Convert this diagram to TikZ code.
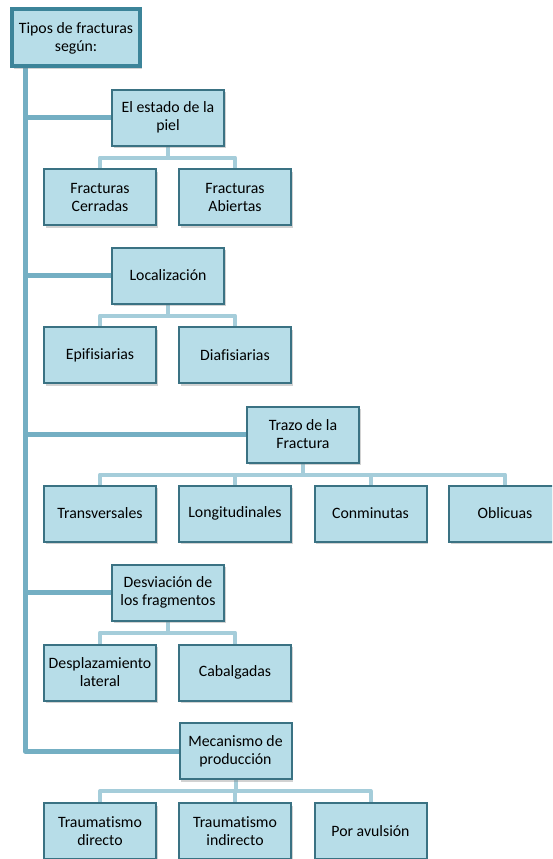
\documentclass[tikz,border=0pt]{standalone}
\usepackage{fontspec}
\setmainfont{Carlito}[Ligatures={NoCommon}]
\usetikzlibrary{shadows,backgrounds}
\definecolor{boxfill}{HTML}{B7DDE8}
\definecolor{boxline}{HTML}{3A7283}
\definecolor{rootline}{HTML}{3C8499}
\definecolor{trunkcol}{HTML}{74AFC3}
\definecolor{branchcol}{HTML}{A5CDDA}
\tikzset{
  box/.style={draw=boxline, line width=2pt, fill=boxfill, minimum width=112pt, minimum height=56pt,
    align=center, inner sep=2pt, font=\fontsize{15.8}{18}\selectfont,
    drop shadow={shadow xshift=1.5pt, shadow yshift=-2.5pt, opacity=0.35}},
  rootbox/.style={box, draw=rootline, line width=4pt, minimum width=128pt, minimum height=57pt},
  trunk/.style={draw=trunkcol, line width=5pt},
  branch/.style={draw=branchcol, line width=4pt},
}
\begin{document}
\begin{tikzpicture}[x=1pt,y=-1pt]
\useasboundingbox (0,0) rectangle (552,859);
\clip (0,0) rectangle (552,859);

% nodes
\node[rootbox] (root) at (76,38) {Tipos de fracturas\\según:};
\node[box] (piel) at (168,117.5) {El estado de la\\piel};
\node[box] (cerr) at (100,197) {Fracturas\\Cerradas};
\node[box] (abie) at (235,197) {Fracturas\\Abiertas};
\node[box] (loc) at (168,275.5) {Localización};
\node[box] (epi) at (100,355) {Epifisiarias};
\node[box] (dia) at (235,355) {Diafisiarias};
\node[box] (trazo) at (303,434.5) {Trazo de la\\Fractura};
\node[box] (trans) at (100,513.5) {Transversales};
\node[box] (long) at (235,513.5) {Longitudinales};
\node[box] (conm) at (370.5,513.5) {Conminutas};
\node[box] (obl) at (505,513.5) {Oblicuas};
\node[box] (desv) at (168,592.5) {Desviación de\\los fragmentos};
\node[box] (despl) at (100,672.5) {Desplazamiento\\lateral};
\node[box] (cabal) at (235,672.5) {Cabalgadas};
\node[box] (mec) at (235.5,751) {Mecanismo de\\producción};
\node[box] (tdir) at (100,831) {Traumatismo\\directo};
\node[box] (tind) at (235,831) {Traumatismo\\indirecto};
\node[box] (avul) at (370.5,831) {Por avulsión};

\begin{pgfonlayer}{background}
  \fill[white] (0,0) rectangle (552,859);
  % trunk
  \coordinate (tTop) at (root.south -| 25,0);
  \draw[trunk, line join=round] (tTop) -- (tTop |- mec.west) -- (mec.west);
  \foreach \n in {piel,loc,trazo,desv}
    \draw[trunk] (tTop |- \n.west) -- (\n.west);
  % branches
  \foreach \p/\c in {piel/cerr,piel/abie,loc/epi,loc/dia,trazo/trans,trazo/long,trazo/conm,trazo/obl,desv/despl,desv/cabal,mec/tdir,mec/tind,mec/avul}
    \draw[branch, line join=round] (\p.south) -- ++(0,11) -| (\c.north);
\end{pgfonlayer}
\end{tikzpicture}
\end{document}
